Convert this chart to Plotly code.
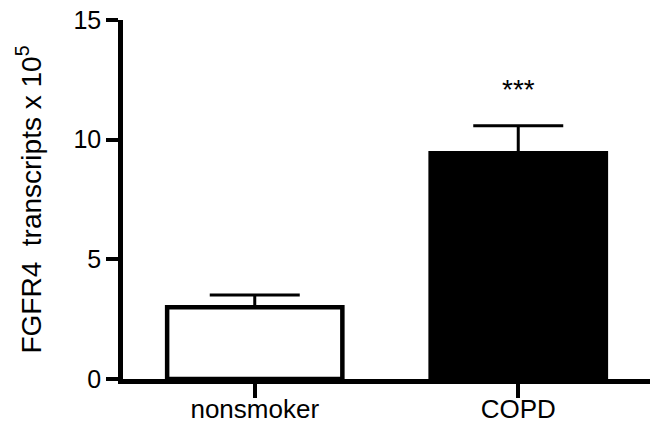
import plotly.graph_objects as go

categories = ["nonsmoker", "COPD"]
means = [3.0, 9.43]
errors_up = [0.51, 1.15]
fill_colors = ["white", "black"]
y_ticks = [0, 5, 10, 15]
significance = "***"

FONT = "Liberation Sans, Arial, sans-serif"

fig = go.Figure()
fig.add_trace(go.Bar(
    x=[0, 1], y=means, width=0.665,
    marker=dict(color=fill_colors, line=dict(color="black", width=4.5)),
    error_y=dict(type="data", array=errors_up, arrayminus=[0, 0], symmetric=False,
                 color="black", thickness=3, width=45),
))
fig.add_annotation(x=1, y=means[1] + errors_up[1], yshift=36, text=significance, showarrow=False,
                   font=dict(size=28, color="black", family=FONT))

fig.update_layout(
    width=659, height=423,
    margin=dict(l=123, r=9, t=20, b=44),
    plot_bgcolor="white", paper_bgcolor="white",
    showlegend=False,
    font=dict(family=FONT, color="black", size=25),
)
fig.update_xaxes(
    range=[-0.5, 1.5], tickvals=[0, 1], ticktext=categories,
    showline=True, linecolor="black", linewidth=4.5,
    ticks="outside", ticklen=14, tickwidth=4, tickcolor="black",
    showgrid=False, zeroline=False, tickfont=dict(size=26), automargin=False,
    ticklabelstandoff=-11,
)
fig.update_yaxes(
    range=[0, 15], tickvals=y_ticks,
    showline=True, linecolor="black", linewidth=4.5,
    ticks="outside", ticklen=12, tickwidth=4, tickcolor="black",
    showgrid=False, zeroline=False, tickfont=dict(size=25), automargin=False,
    title=dict(text="FGFR4\u00a0 transcripts x 10<sup>5</sup>", font=dict(size=28), standoff=25),
)
fig.write_html(
    "out.html",
    config={"displayModeBar": False},
    post_script="document.body.style.margin='0px';document.body.style.overflow='hidden';",
)
